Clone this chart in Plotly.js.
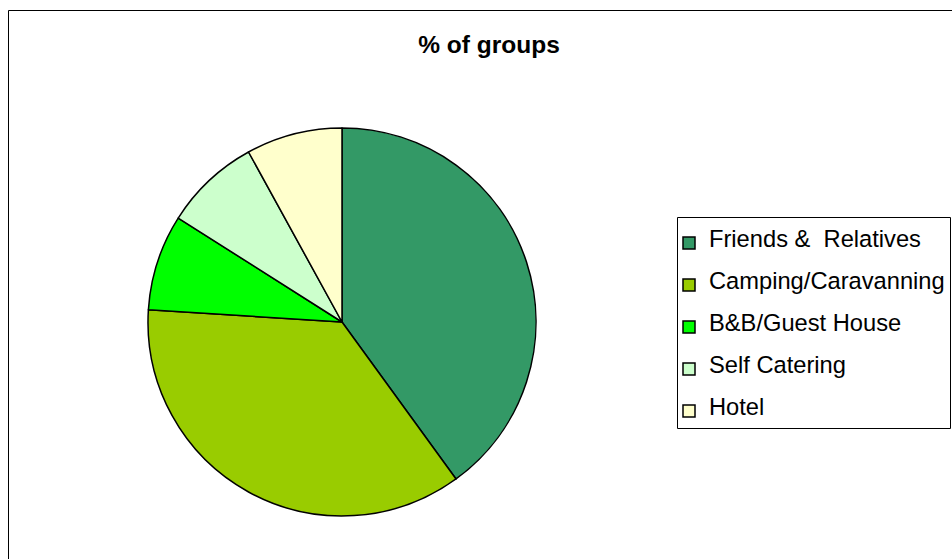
<!DOCTYPE html>
<html>
<head>
<meta charset="utf-8">
<script src="https://cdn.plot.ly/plotly-3.0.1.min.js"></script>
<style>html,body{margin:0;padding:0;background:#fff;}#chart{width:952px;height:559px;}</style>
</head>
<body>
<div id="chart"></div>
<script>
// Data
var categories = ["Friends &  Relatives", "Camping/Caravanning", "B&B/Guest House", "Self Catering", "Hotel"];
var percentOfGroups = [40, 36, 8, 8, 8];
var sliceColors = ["#339966", "#99CC00", "#00FF00", "#CCFFCC", "#FFFFCC"];
var chartTitle = "% of groups";

var W = 952, H = 559;
function esc(s){ return s.replace(/&/g, "&amp;").replace(/  /g, " &nbsp;"); }
// legend labels: padded with blank lines to give the wider row spacing of the reference
var legendLabels = categories.map(function(c){
  return "<br><span style=\"font-size:23.7px\">" + esc(c) + "</span><br> ";
});

var trace = {
  type: "pie",
  labels: legendLabels,
  values: percentOfGroups,
  sort: false,
  direction: "clockwise",
  rotation: 0,
  textinfo: "none",
  hoverinfo: "percent",
  marker: { colors: sliceColors, line: { color: "#000000", width: 1.5 } },
  domain: { x: [148 / W, 536 / W], y: [43 / H, 431 / H] }
};

var layout = {
  width: W, height: H,
  margin: { l: 0, r: 0, t: 0, b: 0 },
  paper_bgcolor: "#ffffff",
  font: { family: "Liberation Sans, Arial, sans-serif", color: "#000000" },
  title: {
    text: "<b>" + chartTitle + "</b>",
    font: { family: "Liberation Sans, Arial, sans-serif", size: 24.5, color: "#000000" },
    x: 489 / W, xanchor: "center", xref: "paper",
    y: 1 - 44 / H, yanchor: "middle", yref: "paper"
  },
  showlegend: true,
  legend: {
    x: 669 / W, xanchor: "left",
    y: 1 - 217 / H, yanchor: "top",
    bgcolor: "rgba(0,0,0,0)",
    borderwidth: 0,
    font: { family: "Liberation Sans, Arial, sans-serif", size: 10.0, color: "#000000" },
    itemwidth: 30,
    traceorder: "normal"
  },
  shapes: [{
    type: "rect", xref: "paper", yref: "paper",
    x0: 8.5 / W, x1: 1.05, y0: -0.05, y1: 1 - 10.5 / H,
    line: { color: "#000000", width: 1 }, fillcolor: "rgba(0,0,0,0)", layer: "below"
  }, {
    type: "rect", xref: "paper", yref: "paper",
    x0: 677.5 / W, x1: 950.5 / W, y0: 1 - 428.5 / H, y1: 1 - 217.5 / H,
    line: { color: "#000000", width: 1 }, fillcolor: "#ffffff", layer: "below"
  }]
};

Plotly.newPlot("chart", [trace], layout, { staticPlot: true, displayModeBar: false });
</script>
</body>
</html>
